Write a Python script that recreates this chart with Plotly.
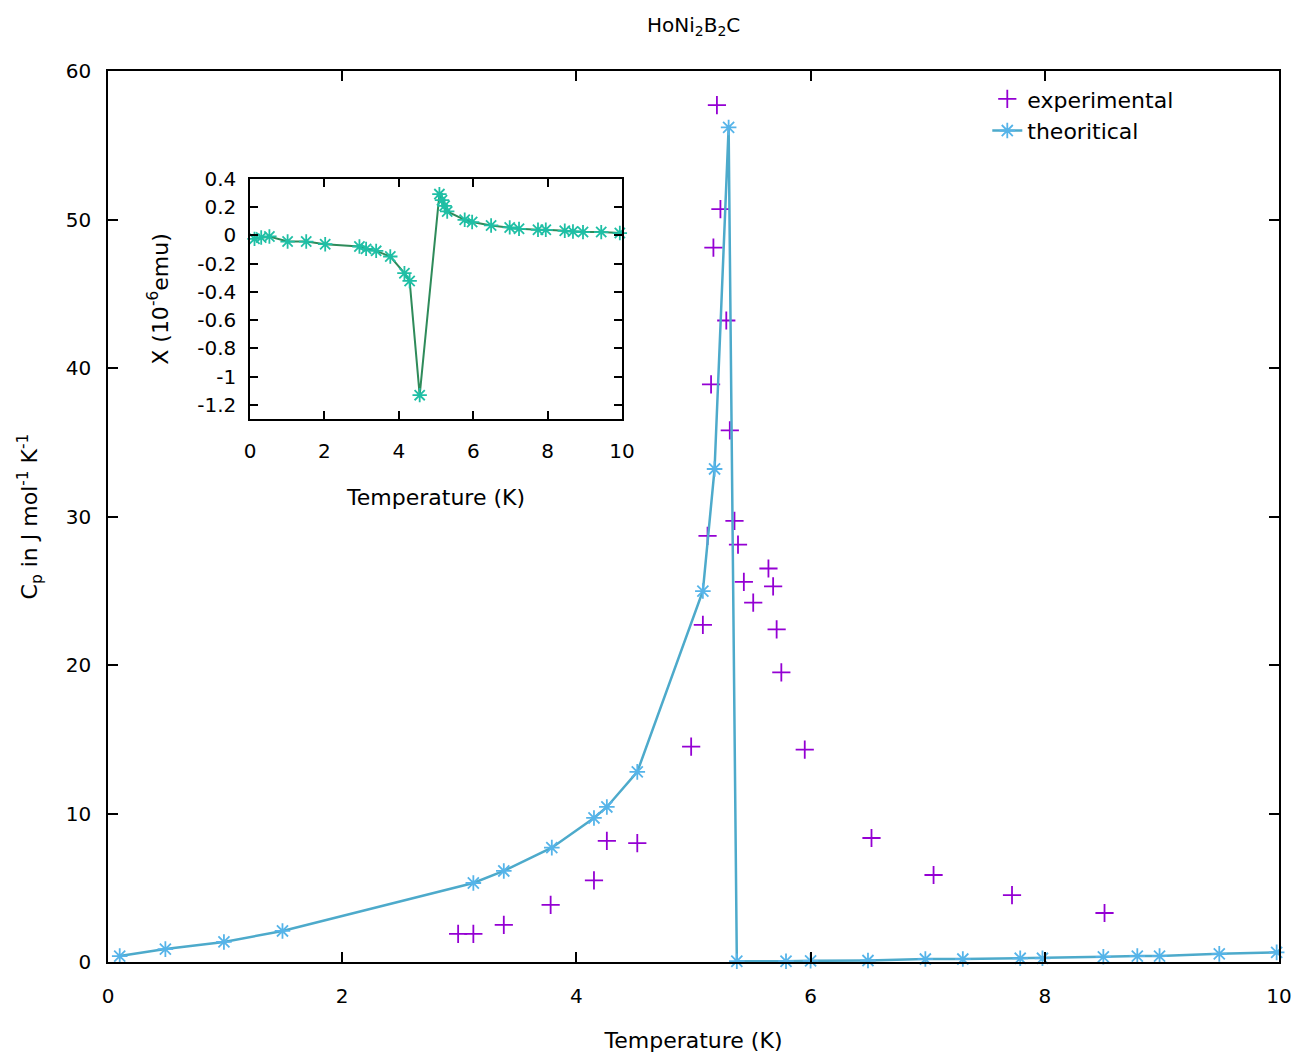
import plotly.graph_objects as go

# Main plot: specific heat
exp_T = [2.99, 3.12, 3.38, 3.78, 4.15, 4.26, 4.52, 4.98, 5.08, 5.12, 5.15, 5.17, 5.20,
         5.23, 5.28, 5.31, 5.35, 5.38, 5.43, 5.51, 5.64, 5.68, 5.71, 5.75, 5.95, 6.52,
         7.05, 7.72, 8.51]
exp_Cp = [1.9, 1.9, 2.5, 3.85, 5.5, 8.15, 8.0, 14.5, 22.7, 28.7, 38.9, 48.1, 57.7,
          50.7, 43.2, 35.8, 29.7, 28.1, 25.6, 24.2, 26.5, 25.3, 22.4, 19.5, 14.3, 8.35,
          5.86, 4.5, 3.3]

th_T = [0.10, 0.49, 0.99, 1.49, 3.12, 3.38, 3.79, 4.15, 4.26, 4.52, 5.08, 5.18, 5.30,
        5.37, 5.79, 6.00, 6.49, 6.98, 7.30, 7.79, 7.98, 8.50, 8.79, 8.98, 9.49, 9.98]
th_Cp = [0.4, 0.87, 1.35, 2.09, 5.32, 6.13, 7.70, 9.7, 10.44, 12.8, 24.98, 33.2, 56.2,
         0.05, 0.05, 0.08, 0.1, 0.2, 0.2, 0.25, 0.25, 0.35, 0.4, 0.4, 0.55, 0.65]

# Inset: susceptibility
ins_T = [0.12, 0.30, 0.52, 1.01, 1.51, 2.02, 2.94, 3.12, 3.39, 3.77, 4.15, 4.29, 4.56,
         5.09, 5.16, 5.23, 5.30, 5.77, 5.97, 6.48, 6.98, 7.23, 7.74, 7.95, 8.46, 8.68,
         8.95, 9.44, 9.94]
ins_X = [-0.024, -0.014, -0.007, -0.043, -0.043, -0.062, -0.078, -0.095, -0.109, -0.149,
         -0.267, -0.322, -1.131, 0.293, 0.25, 0.21, 0.17, 0.111, 0.095, 0.071, 0.057,
         0.047, 0.040, 0.040, 0.033, 0.028, 0.024, 0.024, 0.017]
ins_ticks = [-1.2, -1.0, -0.8, -0.6, -0.4, -0.2, 0, 0.2, 0.4]
ins_ticktext = ["-1.2", "-1", "-0.8", "-0.6", "-0.4", "-0.2", "0", "0.2", "0.4"]

FONT = "DejaVu Sans"

fig = go.Figure()
fig.add_trace(go.Scatter(
    x=exp_T, y=exp_Cp, mode="markers", name="experimental",
    marker=dict(symbol="cross-thin-open", size=13, color="#9400D3",
                line=dict(color="#9400D3", width=1.8)),
    cliponaxis=False))
fig.add_trace(go.Scatter(
    x=th_T, y=th_Cp, mode="lines+markers", name="theoritical",
    line=dict(color="#4DAACB", width=2.5),
    marker=dict(symbol="asterisk-open", size=13, color="#56B4E9",
                line=dict(color="#56B4E9", width=1.8)),
    cliponaxis=False))
fig.add_trace(go.Scatter(
    x=ins_T, y=ins_X, mode="lines+markers", name="inset", showlegend=False,
    xaxis="x2", yaxis="y2",
    line=dict(color="#2E8B5A", width=2),
    marker=dict(symbol="asterisk-open", size=12, color="#1FBFA5",
                line=dict(color="#1FBFA5", width=1.8)),
    cliponaxis=False))

axis_common = dict(showline=True, linecolor="black", linewidth=1.5, mirror="allticks",
                   ticks="inside", tickcolor="black", tickwidth=1.5, showgrid=False,
                   zeroline=False, tickfont=dict(family=FONT, size=20, color="black"))

fig.update_layout(
    width=1301, height=1057,
    paper_bgcolor="white", plot_bgcolor="white",
    margin=dict(l=100, r=30, t=63, b=103),
    font=dict(family=FONT, size=20, color="black"),
    title=dict(text="HoNi<sub>2</sub>B<sub>2</sub>C", x=0.527, xanchor="center",
               y=0.984, yanchor="middle", font=dict(family=FONT, size=20)),
    xaxis=dict(range=[0, 10], dtick=2, ticklen=10, ticklabelstandoff=15,
               title=dict(text="Temperature (K)", standoff=26,
                          font=dict(family=FONT, size=22)), **axis_common),
    yaxis=dict(range=[0, 60], dtick=10, ticklen=10, ticklabelstandoff=11,
               title=dict(text="C<sub>p</sub> in J mol<sup>-1</sup> K<sup>-1</sup>",
                          standoff=22, font=dict(family=FONT, size=22)), **axis_common),
    xaxis2=dict(domain=[0.1213, 0.439], anchor="y2", range=[0, 10], dtick=2, ticklen=8,
                ticklabelstandoff=13,
                title=dict(text="Temperature (K)", standoff=28,
                           font=dict(family=FONT, size=22)), **axis_common),
    yaxis2=dict(domain=[0.6094, 0.8788], anchor="x2", range=[-1.3, 0.4], ticklen=8,
                ticklabelstandoff=8, tickvals=ins_ticks, ticktext=ins_ticktext,
                title=dict(text="X (10<sup>-6</sup>emu)", standoff=23,
                           font=dict(family=FONT, size=22)), **axis_common),
    legend=dict(x=0.914, y=0.992, xanchor="right", yanchor="top",
                tracegroupgap=0,
                bgcolor="rgba(0,0,0,0)", font=dict(family=FONT, size=22)),
)

fig.write_html("out.html")
